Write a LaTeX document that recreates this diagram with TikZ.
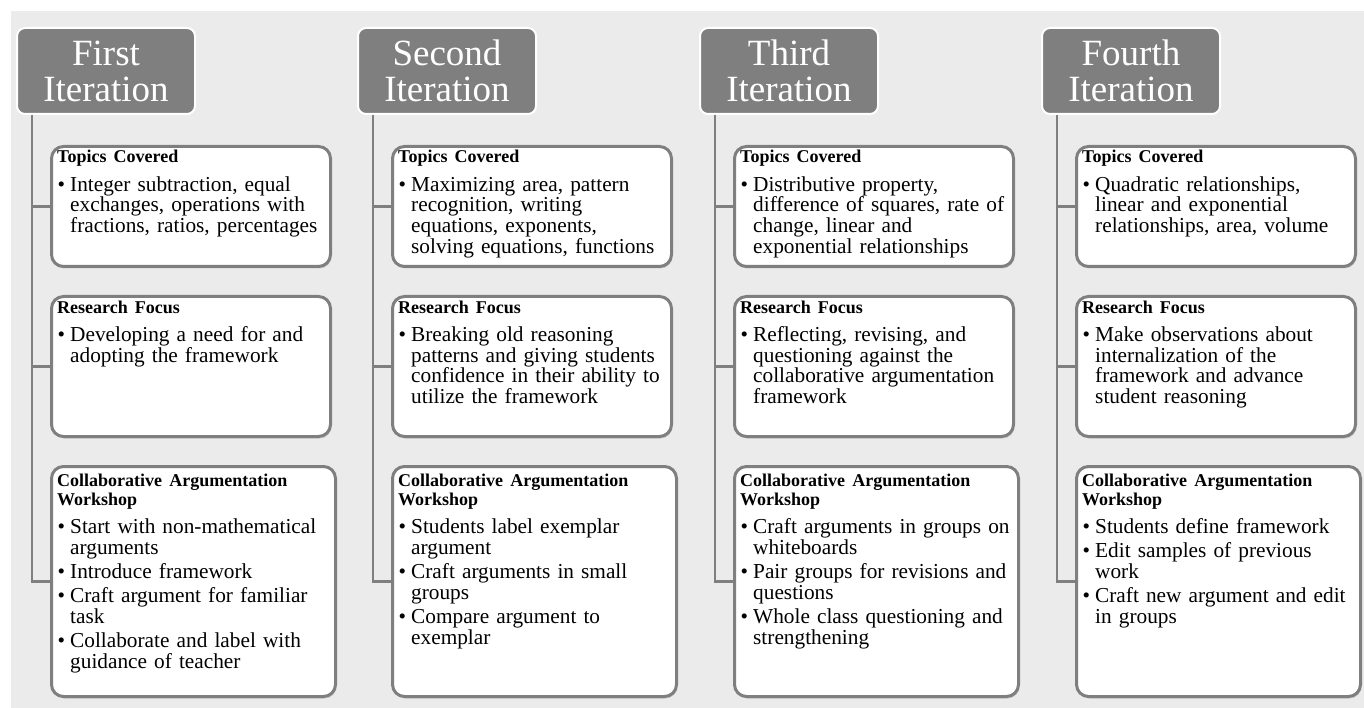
\documentclass[tikz,border=0pt]{standalone}
\usepackage{fontspec}
\setmainfont{Liberation Serif}
\usetikzlibrary{shadows}
\definecolor{PanelGray}{HTML}{7F7F7F}
\definecolor{PageGray}{HTML}{EBEBEB}

\newcommand{\cardhead}[1]{{\bfseries\fontsize{18}{19}\selectfont #1\par}\vspace{4pt}}
\newcommand{\bul}[1]{\par\vspace{3.6pt}\hangindent=13pt\hangafter=1\makebox[13pt][l]{\hspace{0.5pt}\textbullet}#1\par}

\tikzset{
    head/.style={draw=white, line width=2pt, fill=PanelGray, text=white, rounded corners=8pt,
        minimum width=178pt, minimum height=86pt, anchor=north west, align=center,
        font=\fontsize{37}{36}\selectfont},
    card/.style={draw=PanelGray, line width=3pt, fill=white, rounded corners=12pt,
        minimum width=279pt, anchor=north west,
        drop shadow={shadow xshift=1pt, shadow yshift=-2pt, opacity=0.3}},
    cardtext/.style={anchor=base west, text width=272pt, align=left, inner sep=0pt,
        font=\fontsize{21.3}{20.7}\selectfont},
    link/.style={draw=PanelGray, line width=2.5pt}
}

\begin{document}
\begin{tikzpicture}[x=1pt, y=-1pt]

    \useasboundingbox (0,0) rectangle (1364,708);
    \fill[PageGray] (11,11) rectangle (1364,708);

    % ========== FIRST ITERATION ==========
    \begin{scope}[shift={(32,0)}]
        \node[head] (h1) at (-16,27) {First\\Iteration};

        % Boxes
        \node[card, minimum height=120pt] (tc1) at (18,145) {};
        \node[card, minimum height=140pt] (rf1) at (18,295) {};
        \node[card, minimum height=230pt, minimum width=284pt] (ws1) at (18,465) {};

        % Texts
        \node[cardtext] (tc1x) at ([xshift=7pt,yshift=-18pt]tc1.north west)
            {\cardhead{Topics Covered}
             \bul{Integer subtraction, equal\newline exchanges, operations with\newline fractions, ratios, percentages}};
        \node[cardtext] (rf1x) at ([xshift=7pt,yshift=-18pt]rf1.north west)
            {\cardhead{Research Focus}
             \bul{Developing a need for and\newline adopting the framework}};
        \node[cardtext] (ws1x) at ([xshift=7pt,yshift=-21pt]ws1.north west)
            {\cardhead{Collaborative Argumentation\\Workshop}
             \bul{Start with non-mathematical\newline arguments}
             \bul{Introduce framework}
             \bul{Craft argument for familiar\newline task}
             \bul{Collaborate and label with\newline guidance of teacher}};

        % Spine
        \draw[link] ([xshift=16pt]h1.south west) |- (ws1.west);
        \draw[link] ([xshift=16pt]h1.south west) |- (tc1.west);
        \draw[link] ([xshift=16pt]h1.south west) |- (rf1.west);
    \end{scope}

    % ========== SECOND ITERATION ==========
    \begin{scope}[shift={(373,0)}]
        \node[head] (h2) at (-16,27) {Second\\Iteration};

        % Boxes
        \node[card, minimum height=120pt] (tc2) at (18,145) {};
        \node[card, minimum height=140pt] (rf2) at (18,295) {};
        \node[card, minimum height=230pt, minimum width=284pt] (ws2) at (18,465) {};

        % Texts
        \node[cardtext] (tc2x) at ([xshift=7pt,yshift=-18pt]tc2.north west)
            {\cardhead{Topics Covered}
             \bul{Maximizing area, pattern\newline recognition, writing\newline equations, exponents,\newline solving equations, functions}};
        \node[cardtext] (rf2x) at ([xshift=7pt,yshift=-18pt]rf2.north west)
            {\cardhead{Research Focus}
             \bul{Breaking old reasoning\newline patterns and giving students\newline confidence in their ability to\newline utilize the framework}};
        \node[cardtext] (ws2x) at ([xshift=7pt,yshift=-21pt]ws2.north west)
            {\cardhead{Collaborative Argumentation\\Workshop}
             \bul{Students label exemplar\newline argument}
             \bul{Craft arguments in small\newline groups}
             \bul{Compare argument to\newline exemplar}};

        % Spine
        \draw[link] ([xshift=16pt]h2.south west) |- (ws2.west);
        \draw[link] ([xshift=16pt]h2.south west) |- (tc2.west);
        \draw[link] ([xshift=16pt]h2.south west) |- (rf2.west);
    \end{scope}

    % ========== THIRD ITERATION ==========
    \begin{scope}[shift={(715,0)}]
        \node[head] (h3) at (-16,27) {Third\\Iteration};

        % Boxes
        \node[card, minimum height=120pt] (tc3) at (18,145) {};
        \node[card, minimum height=140pt] (rf3) at (18,295) {};
        \node[card, minimum height=230pt, minimum width=284pt] (ws3) at (18,465) {};

        % Texts
        \node[cardtext] (tc3x) at ([xshift=7pt,yshift=-18pt]tc3.north west)
            {\cardhead{Topics Covered}
             \bul{Distributive property,\newline difference of squares, rate of\newline change, linear and\newline exponential relationships}};
        \node[cardtext] (rf3x) at ([xshift=7pt,yshift=-18pt]rf3.north west)
            {\cardhead{Research Focus}
             \bul{Reflecting, revising, and\newline questioning against the\newline collaborative argumentation\newline framework}};
        \node[cardtext] (ws3x) at ([xshift=7pt,yshift=-21pt]ws3.north west)
            {\cardhead{Collaborative Argumentation\\Workshop}
             \bul{Craft arguments in groups on\newline whiteboards}
             \bul{Pair groups for revisions and\newline questions}
             \bul{Whole class questioning and\newline strengthening}};

        % Spine
        \draw[link] ([xshift=16pt]h3.south west) |- (ws3.west);
        \draw[link] ([xshift=16pt]h3.south west) |- (tc3.west);
        \draw[link] ([xshift=16pt]h3.south west) |- (rf3.west);
    \end{scope}

    % ========== FOURTH ITERATION ==========
    \begin{scope}[shift={(1057,0)}]
        \node[head] (h4) at (-16,27) {Fourth\\Iteration};

        % Boxes
        \node[card, minimum height=120pt] (tc4) at (18,145) {};
        \node[card, minimum height=140pt] (rf4) at (18,295) {};
        \node[card, minimum height=230pt, minimum width=284pt] (ws4) at (18,465) {};

        % Texts
        \node[cardtext] (tc4x) at ([xshift=7pt,yshift=-18pt]tc4.north west)
            {\cardhead{Topics Covered}
             \bul{Quadratic relationships,\newline linear and exponential\newline relationships, area, volume}};
        \node[cardtext] (rf4x) at ([xshift=7pt,yshift=-18pt]rf4.north west)
            {\cardhead{Research Focus}
             \bul{Make observations about\newline internalization of the\newline framework and advance\newline student reasoning}};
        \node[cardtext] (ws4x) at ([xshift=7pt,yshift=-21pt]ws4.north west)
            {\cardhead{Collaborative Argumentation\\Workshop}
             \bul{Students define framework}
             \bul{Edit samples of previous\newline work}
             \bul{Craft new argument and edit\newline in groups}};

        % Spine
        \draw[link] ([xshift=16pt]h4.south west) |- (ws4.west);
        \draw[link] ([xshift=16pt]h4.south west) |- (tc4.west);
        \draw[link] ([xshift=16pt]h4.south west) |- (rf4.west);
    \end{scope}

\end{tikzpicture}
\end{document}
